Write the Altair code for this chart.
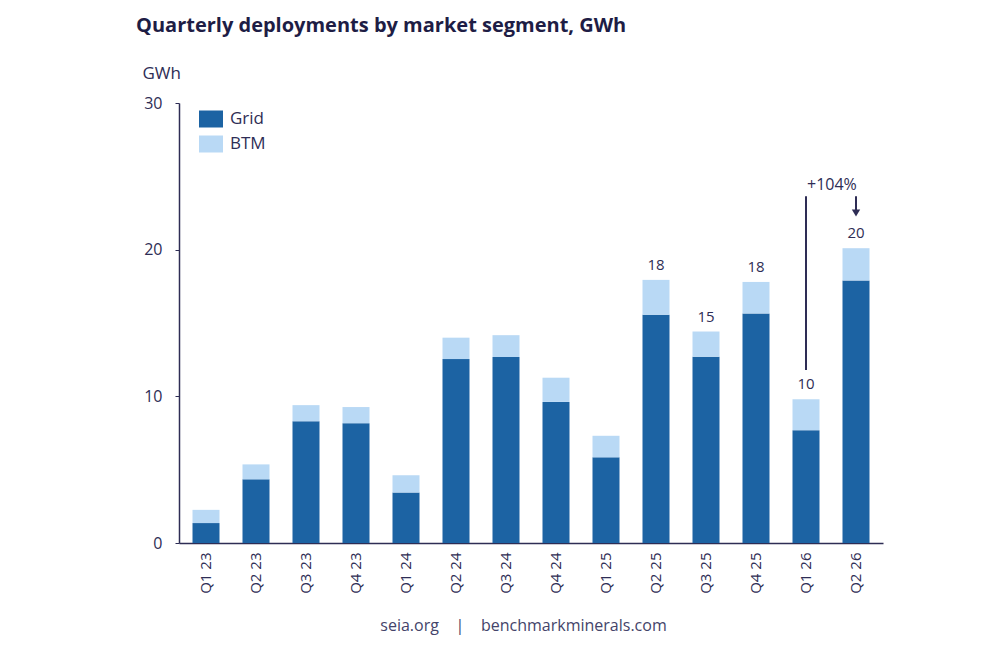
import altair as alt
import pandas as pd

quarters = ["Q1 23", "Q2 23", "Q3 23", "Q4 23", "Q1 24", "Q2 24", "Q3 24",
            "Q4 24", "Q1 25", "Q2 25", "Q3 25", "Q4 25", "Q1 26", "Q2 26"]
grid = [1.36, 4.34, 8.3, 8.17, 3.44, 12.54, 12.68, 9.62, 5.84, 15.56, 12.7, 15.65, 7.69, 17.9]
btm = [0.9, 1.02, 1.1, 1.1, 1.18, 1.46, 1.49, 1.65, 1.47, 2.38, 1.72, 2.15, 2.11, 2.2]

label_quarters = ["Q2 25", "Q3 25", "Q4 25", "Q1 26", "Q2 26"]
label_texts = ["18", "15", "18", "10", "20"]

segments = ["Grid", "BTM"]
colors = ["#1c63a3", "#b9d9f5"]

ink = "#2e2d55"
font = "Open Sans"
nb = "\u00a0" * 4
footer = "seia.org" + nb + "|" + nb + "benchmarkminerals.com"

rows = []
for q, g, b in zip(quarters, grid, btm):
    rows.append({"quarter": q, "segment": "Grid", "value": g, "ord": 0})
    rows.append({"quarter": q, "segment": "BTM", "value": b, "ord": 1})
df = pd.DataFrame(rows)

totals = {q: g + b for q, g, b in zip(quarters, grid, btm)}
lab_df = pd.DataFrame({"quarter": label_quarters, "label": label_texts,
                       "total": [totals[q] for q in label_quarters]})

ann_line = pd.DataFrame({"quarter": ["Q1 26"], "y": [23.65], "y2": [11.8]})
ann_text = pd.DataFrame({"quarter": ["Q1 26"], "y": [24.4], "label": ["+104%"]})
ann_arrow = pd.DataFrame({"quarter": ["Q2 26"], "y": [23.65], "y2": [22.7]})
ann_head = pd.DataFrame({"quarter": ["Q2 26"], "y": [22.5]})

xscale = alt.Scale(domain=quarters, paddingInner=0.46, paddingOuter=0.27)
yscale = alt.Scale(domain=[0, 30], nice=False)

x_enc = alt.X("quarter:N", scale=xscale, sort=quarters,
              axis=alt.Axis(title=footer,
                            labelAngle=-90, labelPadding=9, ticks=False,
                            labelFontSize=15, labelColor=ink, labelFont=font,
                            domainColor=ink, domainWidth=1.5,
                            titleFont=font, titleFontSize=16, titleFontWeight="normal",
                            titleColor="#44446a", titleX=344, titleY=82,
                            titleAlign="center", titleBaseline="middle"))

bars = alt.Chart(df).mark_bar().encode(
    x=x_enc,
    y=alt.Y("value:Q", stack="zero", scale=yscale,
            axis=alt.Axis(values=[0, 10, 20, 30], grid=False, title="GWh",
                          titleAngle=0, titleX=-37, titleY=-30, titleAlign="left",
                          titleBaseline="middle", titleFont=font, titleFontSize=17,
                          titleFontWeight="normal", titleColor=ink,
                          labelFont=font, labelFontSize=16, labelColor=ink,
                          labelPadding=13, tickSize=4, tickColor=ink,
                          domainColor=ink, domainWidth=1.5)),
    color=alt.Color("segment:N", scale=alt.Scale(domain=segments, range=colors),
                    legend=alt.Legend(title=None, orient="none", legendX=22, legendY=6,
                                      symbolType="M-1.2,-0.85H1.2V0.85H-1.2Z",
                                      symbolSize=400, symbolStrokeWidth=0,
                                      rowPadding=6, labelOffset=9, padding=0,
                                      labelFont=font, labelFontSize=17, labelColor=ink)),
    order=alt.Order("ord:Q"),
)

labels = alt.Chart(lab_df).mark_text(baseline="bottom", dy=-7, font=font,
                                     fontSize=15, color=ink).encode(
    x=alt.X("quarter:N", scale=xscale, sort=quarters),
    y=alt.Y("total:Q", scale=yscale),
    text="label:N",
)

line = alt.Chart(ann_line).mark_rule(color=ink, strokeWidth=2).encode(
    x=alt.X("quarter:N", scale=xscale, sort=quarters),
    y=alt.Y("y:Q", scale=yscale), y2="y2:Q",
)
ann_t = alt.Chart(ann_text).mark_text(align="left", dx=1, baseline="middle", font=font,
                                      fontSize=16, color=ink).encode(
    x=alt.X("quarter:N", scale=xscale, sort=quarters),
    y=alt.Y("y:Q", scale=yscale),
    text="label:N",
)
arrow = alt.Chart(ann_arrow).mark_rule(color=ink, strokeWidth=2).encode(
    x=alt.X("quarter:N", scale=xscale, sort=quarters),
    y=alt.Y("y:Q", scale=yscale), y2="y2:Q",
)
head = alt.Chart(ann_head).mark_point(shape="triangle-down", filled=True, opacity=1,
                                      color=ink, size=70).encode(
    x=alt.X("quarter:N", scale=xscale, sort=quarters),
    y=alt.Y("y:Q", scale=yscale),
)

chart = alt.layer(bars, labels, line, ann_t, arrow, head).properties(
    width=704, height=440,
    autosize=alt.AutoSizeParams(type="none"),
    padding={"left": 171, "top": 95, "right": 100, "bottom": 100},
    background="white",
    title=alt.TitleParams("Quarterly deployments by market segment, GWh",
                          anchor="start", dx=-6, offset=28, font=font, fontSize=20,
                          fontWeight="bold", color="#1e1d45"),
).configure_view(stroke=None)

chart.save("out.html", embed_options={"renderer": "svg", "actions": False})
